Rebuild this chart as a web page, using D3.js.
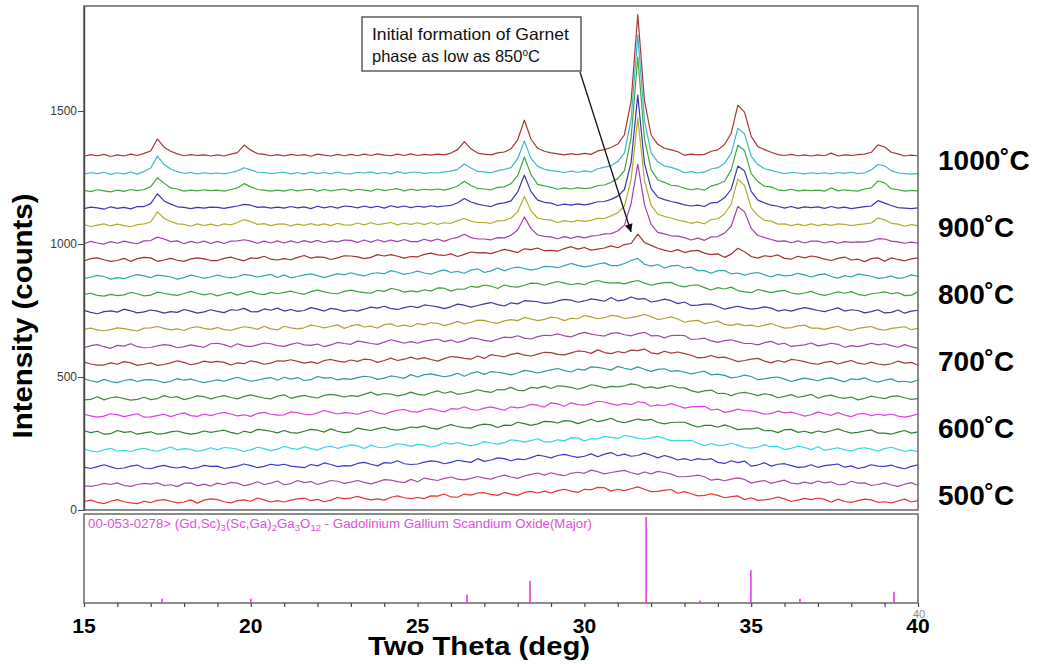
<!DOCTYPE html>
<html>
<head>
<meta charset="utf-8">
<script src="https://cdn.jsdelivr.net/npm/d3@7"></script>
<style>
  body { margin: 0; background: #fff; }
  svg { display: block; }
</style>
</head>
<body>
<svg id="chart" width="1038" height="664"></svg>
<script>
// ---- Data -----------------------------------------------------------------
// Diffraction patterns sampled every 0.2 degrees two-theta (15..40, 126 points).
const twoTheta = d3.range(126).map(i => 15 + i * 0.2);

const temperatures = [500, 525, 550, 575, 600, 625, 650, 675, 700, 725, 750,
                      775, 800, 825, 850, 875, 900, 925, 950, 975, 1000];

// vertical stacking offset of each pattern, in counts
const traceOffsets = [0, 65, 130, 195, 260, 325, 390, 455, 520, 585, 650,
                      715, 780, 845, 910, 975, 1040, 1105, 1170, 1235, 1300];

const traceColors = ["#e63434", "#a24ea4", "#3a3ac8", "#33d6e6", "#347c34",
                     "#e03ee0", "#3f8a3f", "#2f9a9a", "#a23a3a", "#9a4aa2",
                     "#b0a232", "#39399e", "#3f9f3f", "#2fa6b0", "#a23232",
                     "#a040b0", "#b2ae30", "#3838aa", "#40a840", "#3cb8c8", "#a83636"];

// intensity counts (before stacking offset)
const p500 = [32,37,29,24,33,39,31,27,24,33,28,36,39,33,27,30,38,26,37,42,39,31,27,35,38,33,45,38,30,35,30,37,42,45,35,40,31,37,47,43,45,51,44,38,42,37,48,53,46,43,47,43,53,52,60,49,48,60,56,64,65,59,55,66,60,55,66,70,64,71,64,73,78,71,66,78,76,85,84,71,78,73,80,87,78,69,70,75,77,63,69,61,53,55,61,55,46,50,53,39,46,36,38,42,49,42,32,37,44,39,45,40,29,41,32,29,35,41,38,29,31,27,34,41,30,35];
const p525 = [26,24,28,35,31,37,27,24,31,35,32,37,27,30,23,35,37,26,32,25,36,30,39,36,26,32,41,31,36,44,30,34,46,38,42,31,38,46,43,35,40,46,39,33,41,49,47,42,38,50,41,55,50,46,54,59,51,48,54,61,55,51,60,66,59,54,63,69,74,66,75,68,64,73,77,73,85,79,71,76,80,84,75,69,78,71,80,76,70,60,60,62,66,60,47,51,45,51,56,50,36,42,46,35,42,47,36,33,40,34,44,37,41,30,31,43,36,37,27,31,37,29,24,32,38,27];
const p550 = [31,26,33,40,32,25,28,35,39,28,25,33,38,31,28,33,25,29,38,34,35,26,30,35,43,37,29,34,42,38,42,35,32,29,41,36,47,41,33,37,36,45,49,42,36,48,46,55,44,41,43,50,55,52,44,49,57,53,49,63,53,58,66,63,55,62,59,67,76,72,66,75,79,73,68,72,81,70,80,86,74,80,72,75,84,76,66,75,68,58,63,56,63,59,63,49,45,55,48,54,35,39,48,35,42,44,37,30,32,40,30,37,40,43,31,36,26,31,40,35,34,39,30,25,34,40];
const p575 = [35,27,23,31,37,26,29,25,33,37,30,26,34,42,31,36,33,25,31,39,31,40,38,33,25,31,41,36,28,34,44,37,33,43,36,30,41,44,37,43,50,46,36,49,41,39,46,54,51,44,52,49,42,47,58,53,58,52,46,52,62,57,53,58,69,66,60,66,73,61,61,69,65,77,76,65,73,72,82,78,74,85,81,75,71,76,82,74,65,67,65,67,56,47,55,48,49,56,49,40,38,41,51,42,44,32,37,45,40,32,43,30,34,39,31,27,36,39,34,27,36,41,33,26,30,24];
const p600 = [38,31,36,25,27,39,32,35,25,30,34,25,27,34,37,30,25,29,37,32,36,40,32,26,36,31,43,40,36,30,39,31,29,36,43,40,33,45,36,31,34,48,43,39,46,51,43,40,45,52,50,56,48,44,54,61,54,50,48,58,63,60,50,59,58,70,65,58,64,73,72,67,76,74,65,72,81,72,77,85,73,68,75,82,77,81,69,64,69,70,70,60,52,58,58,51,60,52,42,45,45,49,38,39,31,42,43,32,36,29,37,32,38,45,36,29,32,37,41,29,29,25,33,39,29,34];
const p625 = [35,29,24,28,37,33,26,32,37,24,25,30,35,26,34,40,30,27,36,30,37,42,36,29,33,27,38,42,35,32,33,44,41,35,33,40,49,42,36,41,39,35,43,49,40,35,44,50,53,45,43,52,56,49,44,56,54,63,53,50,58,63,56,50,63,59,63,72,69,62,78,74,65,78,71,69,76,84,81,74,69,76,71,82,79,65,70,67,75,67,58,63,64,65,51,54,42,47,54,49,48,43,35,38,47,40,43,36,28,33,44,37,31,41,32,26,36,38,30,35,31,36,28,24,29,36];
const p650 = [24,26,36,24,32,35,29,23,26,34,25,29,40,33,36,25,31,39,36,28,35,40,33,28,37,43,36,31,28,38,43,30,36,41,35,31,41,45,41,35,40,37,45,53,42,48,46,39,44,53,45,42,51,58,49,55,45,49,54,62,56,52,63,62,71,60,59,71,68,76,67,77,75,71,64,71,81,77,69,75,73,77,84,80,69,73,67,73,78,70,69,59,52,58,61,48,49,40,49,52,47,40,47,43,32,37,44,34,38,45,30,38,42,34,30,35,24,30,38,33,29,37,39,32,26,29];
const p675 = [38,31,26,36,28,24,32,36,28,34,35,31,24,29,39,33,37,30,24,29,34,29,37,44,36,29,33,39,43,33,44,37,43,32,35,47,41,43,34,39,36,43,48,45,36,41,49,45,40,54,45,54,57,51,46,50,59,48,59,65,55,65,63,59,53,60,70,66,60,66,72,77,69,64,75,71,83,81,77,71,85,78,73,83,74,66,74,76,66,69,63,57,62,67,53,56,51,42,45,52,47,35,38,43,45,37,28,35,41,36,31,39,42,34,27,38,35,42,31,26,33,38,27,29,25,34];
const p700 = [36,29,25,25,33,28,38,33,24,28,33,24,27,33,41,35,26,31,40,35,39,35,25,33,30,41,36,28,32,41,40,45,39,32,37,31,42,46,40,36,44,39,47,45,35,42,51,42,47,55,47,53,46,40,49,57,55,50,47,59,50,64,60,56,65,70,62,59,66,73,72,65,63,71,78,76,69,82,72,68,76,71,81,79,85,71,67,77,70,74,68,62,52,54,61,53,55,47,38,42,47,50,40,33,42,36,46,43,38,31,28,35,39,29,36,42,32,28,36,29,26,30,40,32,35,24];
const p725 = [25,33,37,29,23,34,31,40,29,25,26,32,37,34,25,29,36,31,27,40,42,37,28,40,32,29,36,43,40,33,30,38,44,36,34,39,29,36,45,41,38,50,46,41,38,46,55,49,42,48,42,50,54,58,48,54,45,52,62,59,53,49,57,65,63,70,61,58,67,72,71,77,70,66,76,83,76,72,69,79,82,74,70,78,83,70,71,62,71,72,71,56,58,61,51,45,52,55,48,41,41,36,44,49,38,42,30,33,36,43,32,36,42,38,27,33,29,35,42,36,40,33,27,37,29,23];
const p750 = [29,34,27,24,28,35,32,27,23,34,35,40,33,27,31,25,35,39,33,29,36,28,26,33,39,36,29,41,31,27,41,35,31,35,45,41,35,40,46,33,42,48,38,41,34,47,50,40,45,39,51,46,54,52,43,50,59,50,56,64,63,56,52,61,66,62,74,68,62,67,75,72,62,71,69,81,76,69,73,82,79,70,73,78,85,77,66,70,76,68,56,61,63,51,56,60,48,44,50,43,45,39,45,51,42,34,36,42,45,34,34,29,36,41,31,25,33,37,40,30,26,33,36,39,28,33];
const p775 = [36,28,23,31,34,29,40,34,26,30,37,33,25,31,28,39,33,25,30,38,32,27,38,36,43,31,30,41,36,44,33,39,32,35,46,40,33,43,39,32,37,33,40,48,44,51,42,39,46,51,46,56,53,49,42,49,59,55,48,54,60,65,57,52,64,60,72,70,68,62,64,71,77,74,66,71,79,75,70,84,71,75,86,78,80,67,71,78,72,61,67,54,55,59,59,50,40,46,51,45,40,43,49,44,33,38,33,40,46,41,35,31,38,45,33,38,35,26,31,38,26,28,37,25,33,36];
const p800 = [31,35,27,24,31,26,29,38,33,25,28,39,35,30,27,34,42,35,29,34,25,32,38,28,36,42,33,30,38,33,38,43,36,31,41,47,40,35,33,42,47,41,37,35,46,42,53,48,39,44,40,48,43,55,54,43,51,50,61,57,66,62,53,66,60,58,65,73,72,65,73,79,73,67,72,67,78,83,76,73,75,70,78,83,73,65,71,75,76,64,59,65,66,56,47,56,51,58,45,40,37,49,43,37,43,46,36,32,36,42,32,27,33,40,35,41,31,26,33,36,40,33,37,26,28,40];
const p825 = [26,30,37,33,23,29,25,33,40,35,29,38,35,31,23,29,38,33,26,31,38,32,28,32,41,37,31,36,41,29,39,28,33,39,43,36,29,36,44,39,47,40,35,44,47,43,55,49,41,46,53,46,42,51,58,48,52,45,57,62,48,54,65,54,64,68,63,57,62,71,70,66,74,82,75,69,73,80,84,74,74,82,93,101,79,72,78,65,73,75,65,68,55,55,45,55,55,43,46,38,45,48,39,31,41,35,37,45,39,31,39,43,33,27,36,31,42,38,34,26,29,35,26,29,39,33];
const p850 = [27,35,38,31,25,28,36,25,35,40,38,25,30,36,29,25,34,38,34,28,28,36,41,33,27,38,36,44,33,30,35,31,40,47,37,42,40,32,38,46,45,42,35,40,50,45,50,44,37,43,42,51,56,49,47,53,43,51,60,57,58,54,62,70,64,58,72,69,75,65,66,63,73,80,71,77,67,71,75,83,76,88,92,127,96,85,74,67,61,69,58,64,66,56,50,53,40,52,74,61,43,37,46,43,49,36,33,44,38,45,41,33,28,36,41,30,33,24,35,38,25,38,32,27,34,38];
const p875 = [26,35,29,25,34,28,36,30,26,37,38,51,44,34,37,26,35,29,36,27,35,27,36,37,41,36,28,36,29,37,29,37,30,38,31,39,30,37,33,40,39,31,40,32,41,33,40,34,42,34,34,43,36,44,35,45,50,62,49,44,44,41,49,48,58,78,127,83,59,54,52,45,53,46,54,48,55,57,63,64,74,96,177,326,173,99,69,63,56,55,49,40,47,39,52,53,66,92,166,146,84,57,49,42,35,37,30,37,29,36,36,29,35,28,34,31,33,32,37,45,44,36,33,28,32,28];
const p900 = [33,26,31,36,28,35,29,25,33,36,43,81,57,45,36,34,27,36,29,35,28,36,32,41,52,44,34,37,29,35,36,28,35,30,37,30,36,29,38,32,31,39,32,40,33,37,41,32,39,34,40,33,41,34,40,38,48,56,46,41,41,38,47,48,58,81,139,85,57,53,50,41,48,43,49,45,49,57,56,66,77,102,203,434,199,105,72,64,58,50,45,38,43,36,52,55,73,110,204,180,96,67,49,46,35,36,29,35,29,36,29,35,30,36,34,29,33,36,39,58,51,38,35,27,33,29];
const p925 = [28,34,31,26,35,29,33,27,36,36,47,84,57,45,35,33,28,33,30,34,33,29,34,38,44,41,33,35,30,34,30,36,31,35,28,37,31,36,30,38,36,31,38,32,37,30,39,33,38,32,37,34,39,35,38,40,50,66,53,45,40,36,46,50,57,91,154,92,60,52,49,40,45,41,46,42,47,54,55,63,75,100,202,455,198,103,71,62,55,50,42,38,41,36,50,52,69,101,188,170,93,60,50,41,37,30,36,29,35,32,35,29,36,30,34,28,32,36,38,58,49,40,32,30,28,31];
const p950 = [32,27,34,30,26,33,28,35,31,35,46,79,59,41,37,29,33,30,34,31,33,29,35,41,57,45,35,33,29,33,29,35,30,34,36,29,35,30,34,37,30,36,33,29,37,31,35,38,30,36,32,36,34,37,33,39,48,66,50,39,37,34,43,45,57,87,157,91,54,49,43,36,41,37,42,38,41,50,52,62,76,106,229,533,225,110,71,62,51,49,39,34,38,33,48,55,66,109,202,182,95,65,47,45,34,31,36,30,33,31,33,29,41,30,34,31,29,37,41,67,60,38,34,29,32,30];
const p975 = [28,34,30,35,27,33,29,36,28,38,51,96,64,47,37,31,34,29,33,30,32,29,34,40,52,44,35,34,30,33,35,29,34,28,36,30,34,29,36,30,29,35,32,36,30,34,29,37,31,35,35,31,34,32,36,39,46,66,51,38,36,33,41,46,52,86,152,87,57,46,41,38,34,39,35,40,36,48,54,59,75,108,233,551,230,108,74,58,53,45,33,37,32,36,47,52,68,106,201,179,95,64,48,42,35,30,34,32,29,33,30,33,29,34,31,35,30,33,44,64,59,41,32,30,28,31];
const p1000 = [30,36,32,37,29,35,31,38,33,41,50,95,64,49,39,32,36,33,35,31,35,31,38,44,72,53,40,37,32,36,31,37,33,36,30,38,34,31,37,32,37,32,38,33,39,34,32,38,33,39,33,37,34,38,35,42,55,85,58,42,38,35,43,46,58,92,166,94,60,49,43,39,35,40,36,41,37,50,55,63,76,111,237,563,239,110,75,60,54,47,34,38,35,37,49,54,74,116,222,196,105,66,55,45,36,33,37,32,35,31,35,32,42,31,35,33,36,38,45,73,65,45,39,31,34,32];

const patterns = [p500, p525, p550, p575, p600, p625, p650, p675, p700, p725, p750,
                  p775, p800, p825, p850, p875, p900, p925, p950, p975, p1000];

// reference card 00-053-0278: stick positions (deg) and relative intensities
const refPositions   = [17.34, 20.0, 26.48, 28.37, 31.85, 33.47, 34.99, 36.46, 39.28];
const refIntensities = [5, 5, 10, 26, 100, 3, 38, 5, 13];

const yTickValues = [0, 500, 1000, 1500];
const xMinorTicks = d3.range(15, 41);
const xTickLabels = [15, 20, 25, 30, 35, 40];

// temperature captions and the stacked level (counts) each sits at
const tempLabels  = ["500˚C", "600˚C", "700˚C", "800˚C", "900˚C", "1000˚C"];
const labelLevels = [20, 272, 524, 776, 1028, 1280];

// annotation arrow tip (two-theta, counts)
const noteTarget = { twoTheta: 31.4, counts: 1045 };

// ---- Layout ---------------------------------------------------------------
const FONT = "'Liberation Sans', Arial, Helvetica, sans-serif";
const plot = { left: 84, right: 918, top: 6, bottom: 510 };
const panel = { top: 514, bottom: 603 };

const svg = d3.select("#chart");
svg.append("rect").attr("width", 1038).attr("height", 664).attr("fill", "#fff");

const x = d3.scaleLinear().domain([15, 40]).range([plot.left, plot.right]);
const y = d3.scaleLinear().domain([0, 1895]).range([plot.bottom, plot.top]);
const yRef = d3.scaleLinear().domain([0, 100]).range([panel.bottom, panel.top + 3]);

const defs = svg.append("defs");
defs.append("clipPath").attr("id", "plotClip")
  .append("rect")
  .attr("x", plot.left).attr("y", plot.top)
  .attr("width", plot.right - plot.left).attr("height", plot.bottom - plot.top);

defs.append("marker")
  .attr("id", "arrowHead")
  .attr("viewBox", "0 0 10 10")
  .attr("refX", 10).attr("refY", 5)
  .attr("markerUnits", "userSpaceOnUse")
  .attr("markerWidth", 11).attr("markerHeight", 8)
  .attr("orient", "auto")
  .append("path").attr("d", "M0,0 L10,5 L0,10 Z").attr("fill", "#111");

// ---- Stacked patterns -----------------------------------------------------
const line = d3.line()
  .x(d => x(d.t))
  .y(d => y(d.v));

const traceLayer = svg.append("g").attr("clip-path", "url(#plotClip)");
patterns.forEach((values, k) => {
  const pts = values.map((v, i) => ({ t: twoTheta[i], v: v + traceOffsets[k] }));
  traceLayer.append("path")
    .datum(pts)
    .attr("d", line)
    .attr("fill", "none")
    .attr("stroke", traceColors[k])
    .attr("stroke-width", 1.2)
    .attr("stroke-linejoin", "round");
});

// main frame
svg.append("rect")
  .attr("x", plot.left).attr("y", plot.top)
  .attr("width", plot.right - plot.left).attr("height", plot.bottom - plot.top)
  .attr("fill", "none").attr("stroke", "#707070").attr("stroke-width", 1.6);

// y axis
const gy = svg.append("g")
  .attr("transform", `translate(${plot.left},0)`)
  .call(d3.axisLeft(y).tickValues(yTickValues).tickSize(6).tickSizeOuter(0)
          .tickPadding(1).tickFormat(d3.format("d")));
gy.select(".domain").attr("stroke", "#444").attr("stroke-width", 1.4);
gy.selectAll(".tick line").attr("stroke", "#444");
gy.selectAll(".tick text")
  .attr("font-family", FONT).attr("font-size", 12).attr("fill", "#3a3a3a");

// ---- Reference pattern panel ---------------------------------------------
svg.append("rect")
  .attr("x", plot.left).attr("y", panel.top)
  .attr("width", plot.right - plot.left).attr("height", panel.bottom - panel.top)
  .attr("fill", "none").attr("stroke", "#707070").attr("stroke-width", 1.6);

svg.append("g").selectAll("line")
  .data(refPositions.map((p, i) => ({ p, h: refIntensities[i] })))
  .join("line")
  .attr("x1", d => x(d.p)).attr("x2", d => x(d.p))
  .attr("y1", yRef(0)).attr("y2", d => yRef(d.h))
  .attr("stroke", "#e33ee3").attr("stroke-width", 1.6);

const caption = svg.append("text")
  .attr("x", 88).attr("y", 528)
  .attr("font-family", FONT).attr("font-size", 12.5)
  .attr("fill", "#e04ee0")
  .attr("textLength", 504).attr("lengthAdjust", "spacingAndGlyphs");
const capParts = [
  ["00-053-0278> (Gd,Sc)", false], ["3", true], ["(Sc,Ga)", false], ["2", true],
  ["Ga", false], ["3", true], ["O", false], ["12", true],
  [" - Gadolinium Gallium Scandium Oxide(Major)", false]
];
let lowered = false;
capParts.forEach(([txt, sub]) => {
  const ts = caption.append("tspan").text(txt);
  if (sub && !lowered) { ts.attr("dy", 3).attr("font-size", 9); lowered = true; }
  else if (sub) { ts.attr("font-size", 9); }
  else if (lowered) { ts.attr("dy", -3); lowered = false; }
});

// x axis (minor ticks every degree)
const gx = svg.append("g")
  .attr("transform", `translate(0,${panel.bottom})`)
  .call(d3.axisBottom(x).tickValues(xMinorTicks).tickSize(4).tickSizeOuter(0).tickFormat(""));
gx.select(".domain").remove();
gx.selectAll(".tick line").attr("stroke", "#444").attr("stroke-width", 1.2);

svg.append("g").selectAll("text")
  .data(xTickLabels)
  .join("text")
  .attr("x", d => x(d)).attr("y", 633)
  .attr("text-anchor", "middle")
  .attr("font-family", FONT).attr("font-size", 21).attr("font-weight", "bold")
  .attr("fill", "#000")
  .text(d => d);

svg.append("text")
  .attr("x", x(40) + 1).attr("y", 618)
  .attr("text-anchor", "middle")
  .attr("font-family", FONT).attr("font-size", 11).attr("fill", "#8a8a8a")
  .text(40);

// ---- Titles ---------------------------------------------------------------
svg.append("text")
  .attr("x", 479).attr("y", 655)
  .attr("text-anchor", "middle")
  .attr("font-family", FONT).attr("font-size", 25).attr("font-weight", "bold")
  .attr("textLength", 222).attr("lengthAdjust", "spacingAndGlyphs")
  .text("Two Theta (deg)");

svg.append("text")
  .attr("transform", "translate(32,316) rotate(-90)")
  .attr("text-anchor", "middle")
  .attr("font-family", FONT).attr("font-size", 28).attr("font-weight", "bold")
  .attr("textLength", 245).attr("lengthAdjust", "spacingAndGlyphs")
  .text("Intensity (counts)");

// temperature captions
svg.append("g").selectAll("text")
  .data(tempLabels.map((t, i) => ({ t, level: labelLevels[i] })))
  .join("text")
  .attr("x", 938).attr("y", d => y(d.level))
  .attr("font-family", FONT).attr("font-size", 28).attr("font-weight", "bold")
  .attr("fill", "#000")
  .text(d => d.t);

// ---- Annotation -----------------------------------------------------------
const note = svg.append("g");
note.append("rect")
  .attr("x", 362).attr("y", 17).attr("width", 219).attr("height", 54)
  .attr("fill", "#fff").attr("stroke", "#333").attr("stroke-width", 1.2);
note.append("text")
  .attr("x", 372).attr("y", 40)
  .attr("font-family", FONT).attr("font-size", 16.5).attr("fill", "#111")
  .attr("textLength", 197).attr("lengthAdjust", "spacingAndGlyphs")
  .text("Initial formation of Garnet");
const l2 = note.append("text")
  .attr("x", 372).attr("y", 62)
  .attr("font-family", FONT).attr("font-size", 16.5).attr("fill", "#111");
l2.append("tspan").text("phase as low as 850");
l2.append("tspan").attr("font-size", 10).attr("dy", -6).text("o");
l2.append("tspan").attr("dy", 6).text("C");

note.append("line")
  .attr("x1", 580).attr("y1", 72)
  .attr("x2", x(noteTarget.twoTheta)).attr("y2", y(noteTarget.counts))
  .attr("stroke", "#111").attr("stroke-width", 1.3)
  .attr("marker-end", "url(#arrowHead)");
</script>
</body>
</html>
